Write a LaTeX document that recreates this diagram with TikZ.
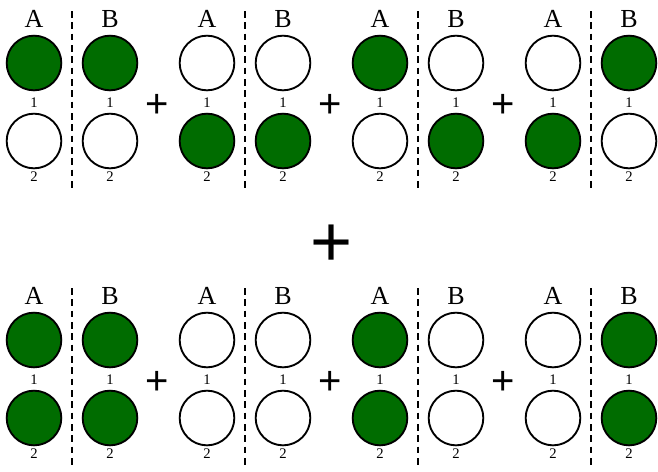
\documentclass[tikz,border=0pt]{standalone}
\usepackage{fontspec}
\setmainfont{Liberation Serif}
\newfontfamily\plusfont{Liberation Sans}
\definecolor{gfill}{RGB}{0,108,0}
\begin{document}
\begin{tikzpicture}[x=0.75pt,y=-0.75pt,
  ball/.style={circle,draw=black,line width=1.4pt,minimum size=41pt,inner sep=0pt},
  on/.style={ball,fill=gfill},
  off/.style={ball,fill=white},
  lett/.style={font=\fontsize{19.5}{19.5}\selectfont,inner sep=0pt},
  num/.style={font=\fontsize{11}{11}\selectfont,inner sep=0pt},
  sep/.style={line width=1.2pt,dash pattern=on 5pt off 3.5pt},
  pl/.style={font=\plusfont\fontsize{30}{30}\selectfont,inner sep=0pt},
  bigpl/.style={font=\plusfont\fontsize{54}{54}\selectfont,inner sep=0pt}]
\useasboundingbox (0,0) rectangle (658,472);
\newcommand{\grp}[7]{%
  % #1 name, #2 x offset, #3 y offset, #4 A1, #5 B1, #6 A2, #7 B2
  \node[lett] (#1la) at (#2+34,#3+19) {A};
  \node[lett] (#1lb) at (#2+110,#3+19) {B};
  \node[#4] (#1a1) at (#2+34,#3+63) {};
  \node[#5] (#1b1) at (#2+110,#3+63) {};
  \node[#6] (#1a2) at (#2+34,#3+141) {};
  \node[#7] (#1b2) at (#2+110,#3+141) {};
  \node[num] (#1na1) at (#2+34,#3+103) {1};
  \node[num] (#1nb1) at (#2+110,#3+103) {1};
  \node[num] (#1na2) at (#2+34,#3+177) {2};
  \node[num] (#1nb2) at (#2+110,#3+177) {2};
  \coordinate (#1s) at (#2+72,#3+11);
  \coordinate (#1e) at (#2+72,#3+192);
  \draw[sep] (#1s) -- (#1e);
}
\grp{ta}{0}{0}{on}{on}{off}{off}
\grp{tb}{173}{0}{off}{off}{on}{on}
\grp{tc}{346}{0}{on}{off}{off}{on}
\grp{td}{519}{0}{off}{on}{on}{off}
\grp{ba}{0}{277}{on}{on}{on}{on}
\grp{bb}{173}{277}{off}{off}{off}{off}
\grp{bc}{346}{277}{on}{off}{on}{off}
\grp{bd}{519}{277}{off}{on}{off}{on}
\node[pl] (p1) at (157,106) {+};
\node[pl] (p2) at (330,106) {+};
\node[pl] (p3) at (503,106) {+};
\node[pl] (p4) at (157,383) {+};
\node[pl] (p5) at (330,383) {+};
\node[pl] (p6) at (503,383) {+};
\node[bigpl] (pb) at (332,246) {+};
\end{tikzpicture}
\end{document}
